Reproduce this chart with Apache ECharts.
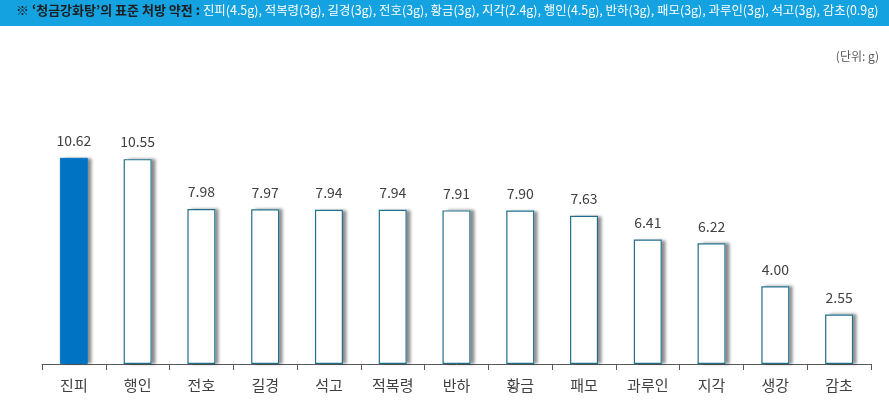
<!DOCTYPE html>
<html><head><meta charset="utf-8">
<script src="https://cdn.jsdelivr.net/npm/echarts@6/dist/echarts.min.js"></script>
<style>html,body{margin:0;padding:0;background:#fff}#c{width:889px;height:409px}</style>
</head><body><div id="c"></div>
<script>
const categories = ['진피','행인','전호','길경','석고','적복령','반하','황금','패모','과루인','지각','생강','감초'];
const values = [10.62,10.55,7.98,7.97,7.94,7.94,7.91,7.90,7.63,6.41,6.22,4.00,2.55];
const highlightIndex = 0;
const titleLead = '※ \u2018청금강화탕\u2019의 표준 처방 약전 : ';
const titleRest = '진피(4.5g), 적복령(3g), 길경(3g), 전호(3g), 황금(3g), 지각(2.4g), 행인(4.5g), 반하(3g), 패모(3g), 과루인(3g), 석고(3g), 감초(0.9g)';
const unitText = '(단위: g)';
const FONT = '"Noto Sans CJK KR", sans-serif';

const chart = echarts.init(document.getElementById('c'), null, {renderer:'canvas'});
chart.setOption({
  animation:false,
  textStyle:{fontFamily:FONT},
  graphic:[
    {type:'rect', left:0, top:0, shape:{width:889, height:26}, style:{fill:'#14A2E0'}, z:0},
    {type:'text', left:16, top:4, z:2, style:{
      text:'{a|'+titleLead+'}{b|'+titleRest+'}',
      rich:{
        a:{fontFamily:FONT, fontSize:13, fontWeight:'bold', fill:'#1e1e1e'},
        b:{fontFamily:FONT, fontSize:12.45, fill:'#ffffff'}
      }
    }},
    {type:'text', right:10, top:50, z:2, style:{text:unitText, fontFamily:FONT, fontSize:12, fill:'#595959'}}
  ],
  grid:{left:42, right:18, top:131, bottom:45},
  xAxis:{
    type:'category', data:categories,
    axisLine:{lineStyle:{color:'#595959', width:1}},
    axisTick:{show:true, length:6, alignWithLabel:false, lineStyle:{color:'#595959'}},
    axisLabel:{color:'#404040', fontSize:15, margin:14, fontFamily:FONT}
  },
  yAxis:{type:'value', min:0, max:12, show:false, splitLine:{show:false}},
  series:[{
    type:'bar', barWidth:28, barGap:'-100%', silent:true, z:1,
    data:values,
    itemStyle:{color:'#ffffff', shadowColor:'rgba(0,0,0,0.45)', shadowBlur:3, shadowOffsetX:4, shadowOffsetY:0}
  },{
    type:'bar', barWidth:28, z:2,
    data:values.map((v,i)=>({
      value:v,
      itemStyle: i===highlightIndex
        ? {color:'#0073C2', borderColor:'#0073C2', borderWidth:1}
        : {color:'#ffffff', borderColor:'#1F6F8B', borderWidth:1.2}
    })),
    label:{show:true, position:'top', distance:10, color:'#404040', fontSize:14, fontFamily:FONT,
      formatter:p=>p.value.toFixed(2)}
  }]
});
</script></body></html>
